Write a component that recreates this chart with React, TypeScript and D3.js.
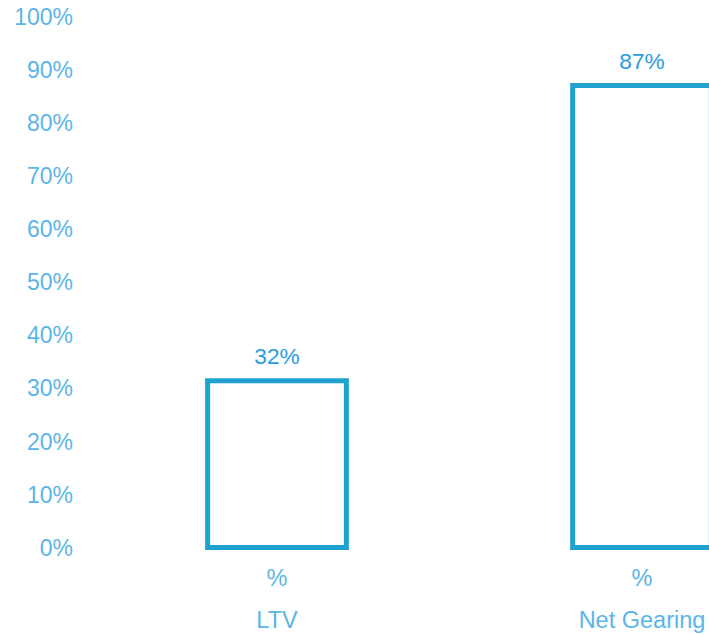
import React from "react";
import * as d3 from "d3";

const categories = ["LTV", "Net Gearing"];
const categoryUnits = ["%", "%"];
const values = [31.4, 87];
const valueLabels = ["32%", "87%"];
const yTicks = [0, 10, 20, 30, 40, 50, 60, 70, 80, 90, 100];

const W = 709;
const H = 634;
const FONT = "'Liberation Sans', Arial, Helvetica, sans-serif";

export default function App() {
  const x = d3
    .scaleBand<string>()
    .domain(categories)
    .range([94.5, 94.5 + 730])
    .paddingInner(0.62)
    .paddingOuter(0.31);
  const y = d3.scaleLinear().domain([0, 100]).range([547.5, 16.5]);
  const sw = 5;

  return (
    <svg
      width={W}
      height={H}
      style={{ position: "fixed", left: 0, top: 0, background: "#fff" }}
      fontFamily={FONT}
    >
      {yTicks.map((t) => (
        <text
          key={t}
          x={73}
          y={y(t) + 8.2}
          textAnchor="end"
          fontSize={23}
          fill="#5bb5e8"
        >
          {t + "%"}
        </text>
      ))}
      {categories.map((c, i) => {
        const x0 = x(c)!;
        const bw = x.bandwidth();
        const cx = x0 + bw / 2;
        return (
          <g key={c}>
            <rect
              x={x0}
              y={y(values[i])}
              width={bw}
              height={y(0) - y(values[i])}
              fill="none"
              stroke="#1ea2cf"
              strokeWidth={sw}
            />
            <text
              x={cx}
              y={y(values[i]) - sw / 2 - 14}
              textAnchor="middle"
              fontSize={22.7}
              fill="#2b9be0"
            >
              {valueLabels[i]}
            </text>
            <text x={cx} y={586} textAnchor="middle" fontSize={23.5} fill="#5bb5e8">
              {categoryUnits[i]}
            </text>
            <text x={cx} y={628} textAnchor="middle" fontSize={23.5} fill="#5bb5e8">
              {c}
            </text>
          </g>
        );
      })}
    </svg>
  );
}
